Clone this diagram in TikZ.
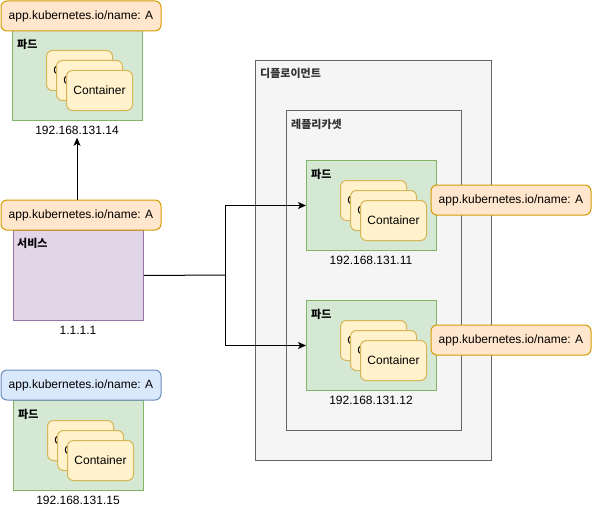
\documentclass[tikz,border=0pt]{standalone}
\usepackage{fontspec}
\setmainfont{Liberation Sans}
\newfontfamily\kr{Noto Sans CJK KR}
\usetikzlibrary{arrows.meta}
\definecolor{podF}{HTML}{D5E8D4}\definecolor{podS}{HTML}{82B366}
\definecolor{contF}{HTML}{FFF2CC}\definecolor{contS}{HTML}{D6B656}
\definecolor{orF}{HTML}{FFE6CC}\definecolor{orS}{HTML}{D79B00}
\definecolor{blF}{HTML}{DAE8FC}\definecolor{blS}{HTML}{6C8EBF}
\definecolor{puF}{HTML}{E1D5E7}\definecolor{puS}{HTML}{9673A6}
\definecolor{grF}{HTML}{F5F5F5}\definecolor{grS}{HTML}{666666}\definecolor{grT}{HTML}{333333}
\tikzset{
  box/.style={anchor=north west, inner sep=0pt, line width=1pt},
  podbox/.style={box, draw=podS, fill=podF, minimum width=130pt, minimum height=90pt},
  cont/.style={box, draw=contS, fill=contF, rounded corners=6pt, minimum width=66pt, minimum height=40pt, font=\fontsize{12}{14}\selectfont},
  tag/.style={draw=orS, fill=orF, line width=1pt, rounded corners=6pt, minimum width=160pt, minimum height=30pt, inner sep=0pt, font=\fontsize{12}{14}\selectfont},
  bluetag/.style={tag, draw=blS, fill=blF},
  title/.style={anchor=west, inner sep=0pt, font=\kr\bfseries\fontsize{11}{13}\selectfont},
  iptext/.style={font=\fontsize{12}{14}\selectfont},
  arr/.style={line width=1pt, -{Stealth[length=8pt,width=7pt,inset=2pt]}},
  ln/.style={line width=1pt}
}
\newcommand\mypod[4]{%
  \node[podbox] (#1) at (#2,#3) {};
  \node[title] (#1t) at (#2+5,#3+14) {파드};
  \node[cont] (#1a) at (#2+34,#3+20) {Container};
  \node[cont] (#1b) at (#2+44,#3+30) {Container};
  \node[cont] (#1c) at (#2+54,#3+40) {Container};
  \node[iptext] (#1ip) at (#2+65,#3+100) {#4};
}
\begin{document}
\begin{tikzpicture}[x=1pt,y=-1pt]
\useasboundingbox (0,0) rectangle (592,511);
% deployment and replicaset
\node[box, draw=grS, fill=grF, minimum width=236pt, minimum height=400pt] (dep) at (255,60) {};
\node[title, text=grT] (dept) at (260,73) {디플로이먼트};
\node[box, draw=grS, fill=grF, minimum width=175pt, minimum height=320pt] (rs) at (286,110) {};
\node[title, text=grT] (rst) at (291,124) {레플리카셋};
% pods
\mypod{top}{12}{30}{192.168.131.14}
\mypod{pa}{306}{160}{192.168.131.11}
\mypod{pb}{306}{300}{192.168.131.12}
\mypod{bot}{13}{400}{192.168.131.15}
% service
\node[box, draw=puS, fill=puF, minimum width=130pt, minimum height=90pt] (svc) at (13,230) {};
\node[title] (svct) at (17,243) {서비스};
\node[iptext] (svcip) at (78,330) {1.1.1.1};
% tags
\node[tag] (toptag) at (81,16) {app.kubernetes.io/name: A};
\node[tag] (svctag) at (81,215) {app.kubernetes.io/name: A};
\node[bluetag] (bottag) at (81,385) {app.kubernetes.io/name: A};
\node[tag] (patag) at (511,200) {app.kubernetes.io/name: A};
\node[tag] (pbtag) at (511,340) {app.kubernetes.io/name: A};
% connectors
\draw[arr] (svctag.north -| topip.south) -- (topip.south);
\coordinate (split) at (225,275);
\draw[ln] (svc.east) -- (split);
\draw[arr] (split) |- (pa.west);
\draw[arr] (split) |- (pb.west);
\end{tikzpicture}
\end{document}
